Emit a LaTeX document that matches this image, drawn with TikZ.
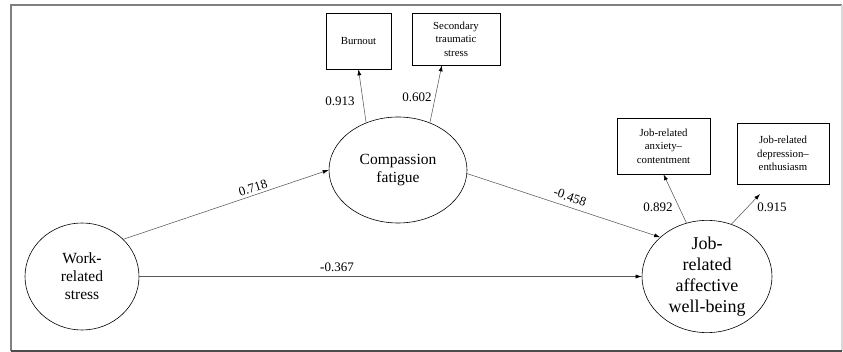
\documentclass[tikz,border=0pt]{standalone}
\usepackage{fontspec}
\setmainfont{Liberation Serif}
\usetikzlibrary{shapes.geometric,arrows.meta,calc}
\begin{document}
\begin{tikzpicture}[x=1pt,y=-1pt,
  latent/.style={ellipse,draw=black,line width=0.6pt,inner sep=0pt,align=center},
  indic/.style={rectangle,draw=black,line width=0.6pt,inner sep=0pt,align=center,font=\fontsize{10.8}{13.5}\selectfont},
  path/.style={draw=black!65,line width=0.55pt,-{Latex[length=6pt,width=4pt,color=black]}},
  coef/.style={font=\fontsize{13}{15}\selectfont,inner sep=1pt}]
\useasboundingbox (0,0) rectangle (843,352);
% frame
\draw[black!50,line width=1.6pt] (11,351) -- (11,5) -- (842,5);
\draw[black!15,line width=1.2pt] (842,5) -- (842,351);
\draw[black!70,line width=1.6pt] (11,351) -- (842,351);
% latent variables
\node[latent,minimum width=114pt,minimum height=107pt,font=\fontsize{15.5}{18}\selectfont] (work) at (82,276.5) {Work\textbf{-}\\related\\stress};
\node[latent,minimum width=138pt,minimum height=106pt,font=\fontsize{15.5}{18}\selectfont] (comp) at (398,170) {Compassion\\fatigue};
\node[latent,minimum width=130pt,minimum height=107pt,font=\fontsize{18}{21}\selectfont] (job) at (707,276.5) {Job\textbf{-}\\related\\affective\\well-being};
% indicators
\node[indic,minimum width=65pt,minimum height=56pt] (burn) at (358.5,41) {Burnout};
\node[indic,minimum width=88pt,minimum height=52pt] (sts) at (456,39) {Secondary\\traumatic\\stress};
\node[indic,minimum width=93pt,minimum height=56pt] (anx) at (663.5,146) {Job-related\\anxiety--\\contentment};
\node[indic,minimum width=92pt,minimum height=61pt] (dep) at (783,153.5) {Job-related\\depression--\\enthusiasm};
\coordinate (depend) at (760,194);
% paths
\draw[path] (work.42) -- (comp.west);
\draw[path] (comp.-3) -- (job.140);
\draw[path] (work.east) -- (job.west);
\draw[path] (comp.124) -- (burn.south);
\draw[path] (comp.56) -- ($(sts.south west)!0.34!(sts.south east)$);
\draw[path] (job.111) -- (anx.south);
\draw[path] (job.65) -- (depend);
% coefficients
\node[coef,rotate=18] (c1) at (253,188) {0.718};
\node[coef,rotate=-19] (c2) at (570,197) {-0.458};
\node[coef] (c3) at (337,267) {\textbf{-}0.367};
\node[coef] (c4) at (340,101) {0.913};
\node[coef] (c5) at (417,97) {0.602};
\node[coef] (c6) at (658,207) {0.892};
\node[coef] (c7) at (772,207) {0.915};
\end{tikzpicture}
\end{document}
